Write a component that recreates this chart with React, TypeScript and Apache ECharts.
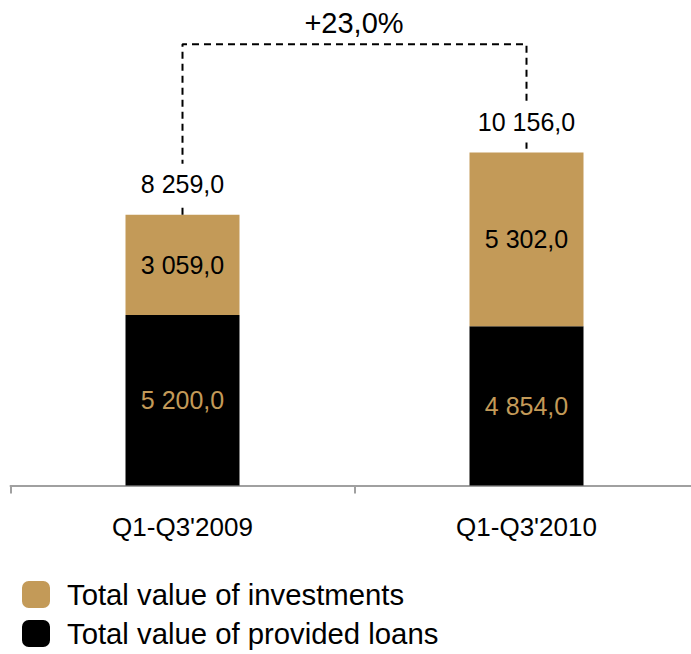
import React, { useEffect, useRef } from "react";
import * as echarts from "echarts";

const categories = ["Q1-Q3'2009", "Q1-Q3'2010"];
const loans = [5200.0, 4854.0];
const investments = [3059.0, 5302.0];
const totals = categories.map((_, i) => loans[i] + investments[i]);
const bracketLevel = 13460;
const seriesNames = ["Total value of investments", "Total value of provided loans"];

const TAN = "#C39A58";
const FONT = "'Liberation Sans', Arial, sans-serif";

function fmt(v: number): string {
  const fixed = v.toFixed(1);
  const [intPart, dec] = fixed.split(".");
  const withSpaces = intPart.replace(/\B(?=(\d{3})+(?!\d))/g, " ");
  return `${withSpaces},${dec}`;
}

const growth = (totals[1] / totals[0] - 1) * 100;
const growthText = `+${growth.toFixed(1).replace(".", ",")}%`;

export default function App() {
  const ref = useRef<HTMLDivElement>(null);
  useEffect(() => {
    if (!ref.current) return;
    const chart = echarts.init(ref.current, undefined, { renderer: "svg" });
    chart.setOption({
      animation: false,
      textStyle: { fontFamily: FONT },
      grid: {
        left: 10.5,
        width: 688,
        top: 26.5,
        bottom: 168.5,
        outerBoundsMode: "none",
        containLabel: false,
      },
      xAxis: {
        type: "category",
        data: categories,
        axisLine: { lineStyle: { color: "#a0a0a0", width: 2 } },
        axisTick: { show: true, length: 8, lineStyle: { color: "#a0a0a0", width: 2 } },
        axisLabel: { color: "#000", fontSize: 26, margin: 28, fontFamily: FONT },
      },
      yAxis: {
        type: "value",
        min: 0,
        max: 14000,
        show: false,
        splitLine: { show: false },
      },
      legend: {
        orient: "vertical",
        left: 22,
        top: 577,
        height: 90,
        padding: 0,
        itemWidth: 28,
        itemHeight: 27,
        itemGap: 4,
        icon: "roundRect",
        data: [seriesNames[0], seriesNames[1]],
        textStyle: {
          fontSize: 29.3,
          lineHeight: 27,
          color: "#000",
          fontFamily: FONT,
          padding: [8, 0, 0, 12],
        },
      },
      graphic: [
        {
          type: "text",
          x: 354,
          y: 8,
          style: {
            text: growthText,
            fontSize: 29,
            fill: "#000",
            fontFamily: FONT,
            align: "center",
          },
        },
      ],
      series: [
        {
          name: seriesNames[1],
          type: "bar",
          stack: "total",
          data: loans,
          barWidth: 114,
          itemStyle: { color: "#000" },
          label: {
            show: true,
            position: "inside",
            color: TAN,
            fontSize: 25,
            fontFamily: FONT,
            formatter: (p: any) => fmt(p.value),
          },
        },
        {
          name: seriesNames[0],
          type: "bar",
          stack: "total",
          data: investments,
          barWidth: 114,
          itemStyle: { color: TAN },
          label: {
            show: true,
            position: "inside",
            color: "#000",
            fontSize: 25,
            fontFamily: FONT,
            formatter: (p: any) => fmt(p.value),
          },
        },
        {
          type: "line",
          data: [
            [0, totals[0]],
            [0, bracketLevel],
            [1, bracketLevel],
            [1, totals[1]],
          ],
          symbol: "none",
          clip: false,
          z: 3,
          lineStyle: { color: "#000", width: 2, type: [7, 5] },
        },
        {
          name: "totals",
          type: "bar",
          stack: "total",
          data: totals.map(() => 0),
          barWidth: 114,
          z: 6,
          itemStyle: { color: "transparent" },
          label: {
            show: true,
            position: "top",
            distance: 10,
            color: "#000",
            fontSize: 25,
            fontFamily: FONT,
            backgroundColor: "#fff",
            padding: [8, 4],
            formatter: (p: any) => fmt(totals[p.dataIndex]),
          },
        },
      ],
    });
    return () => chart.dispose();
  }, []);
  return (
    <div
      ref={ref}
      style={{ position: "absolute", left: 0, top: 0, width: 691, height: 654 }}
    />
  );
}
